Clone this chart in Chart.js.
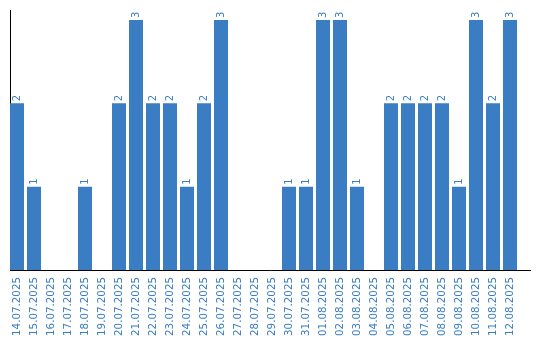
<!DOCTYPE html>
<html><head><meta charset="utf-8">
<script src="https://cdn.jsdelivr.net/npm/chart.js@4/dist/chart.umd.min.js"></script>
<style>html,body{margin:0;padding:0;background:#fff}#wrap{width:540px;height:340px}</style>
</head><body><div id="wrap"><canvas id="c" width="540" height="340"></canvas></div>
<script>
const categories = ["14.07.2025","15.07.2025","16.07.2025","17.07.2025","18.07.2025","19.07.2025","20.07.2025","21.07.2025","22.07.2025","23.07.2025","24.07.2025","25.07.2025","26.07.2025","27.07.2025","28.07.2025","29.07.2025","30.07.2025","31.07.2025","01.08.2025","02.08.2025","03.08.2025","04.08.2025","05.08.2025","06.08.2025","07.08.2025","08.08.2025","09.08.2025","10.08.2025","11.08.2025","12.08.2025"];
const values = [2,1,0,0,1,0,2,3,2,2,1,2,3,0,0,0,1,1,3,3,1,0,2,2,2,2,1,3,2,3];
const BLUE = '#3a7dc2';
const labelPlugin = {
  id: 'vlabels',
  afterDatasetsDraw(chart) {
    const ctx = chart.ctx;
    const meta = chart.getDatasetMeta(0);
    ctx.save();
    ctx.fillStyle = BLUE;
    ctx.font = '10px "DejaVu Sans"';
    ctx.textAlign = 'left';
    ctx.textBaseline = 'middle';
    meta.data.forEach((bar, i) => {
      const v = values[i];
      if (!v) return;
      ctx.save();
      ctx.translate(bar.x, bar.y - 2);
      ctx.rotate(-Math.PI / 2);
      ctx.fillText(String(v), 0, 0);
      ctx.restore();
    });
    ctx.restore();
  }
};
new Chart(document.getElementById('c'), {
  type: 'bar',
  data: { datasets: [{ data: values.map((v, i) => ({ x: i, y: v })), backgroundColor: BLUE, barPercentage: 0.8235, categoryPercentage: 1.0 }] },
  options: {
    responsive: false, animation: false,
    layout: { padding: { left: 10, right: 10, top: 10, bottom: 0 } },
    plugins: { legend: { display: false }, tooltip: { enabled: false } },
    scales: {
      x: {
        type: 'linear', offset: false,
        min: -0.4118, max: 30.176,
        afterBuildTicks(scale) { scale.ticks = categories.map((_, i) => ({ value: i })); },
        afterFit(scale) { scale.height = 70; },
        grid: { display: false, drawTicks: false },
        border: { display: true, color: '#000', width: 1 },
        ticks: { color: BLUE, font: { family: 'DejaVu Sans', size: 10.3 }, minRotation: 90, maxRotation: 90, autoSkip: false, padding: 7,
          callback: (v) => categories[v] }
      },
      y: {
        min: 0, max: 3.12,
        grid: { display: false, drawTicks: false },
        border: { display: true, color: '#000', width: 1 },
        ticks: { display: false }
      }
    }
  },
  plugins: [labelPlugin]
});
</script></body></html>
